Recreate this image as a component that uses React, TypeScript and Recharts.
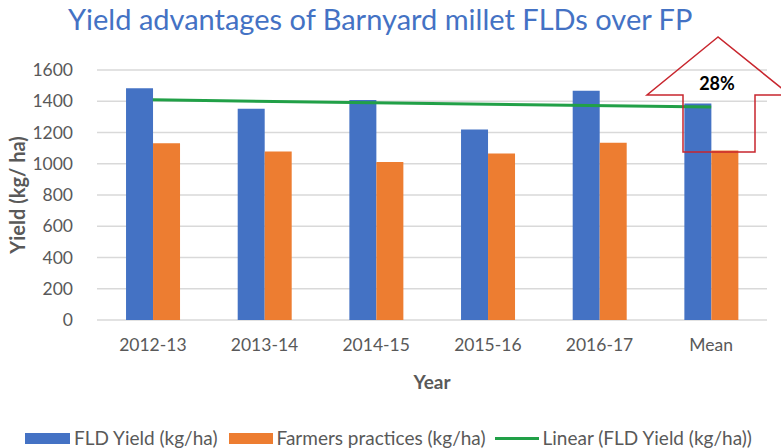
import {
  ComposedChart,
  Bar,
  XAxis,
  YAxis,
  CartesianGrid,
  ReferenceLine,
} from "recharts";

const years = ["2012-13", "2013-14", "2014-15", "2015-16", "2016-17", "Mean"];
const fldYield = [1483, 1352, 1408, 1220, 1468, 1386];
const farmersYield = [1132, 1079, 1011, 1066, 1135, 1085];
const yTicks = [0, 200, 400, 600, 800, 1000, 1200, 1400, 1600];
// linear trendline of FLD yield, read at first and last category
const trendStart = 1409;
const trendEnd = 1363;
const advantageLabel = "28%";

const chartData = years.map((year, i) => ({
  year,
  fld: fldYield[i],
  farmers: farmersYield[i],
}));

const FONT = "Lato, 'Open Sans', sans-serif";
const GREY = "#595959";

export default function App() {
  return (
    <div
      style={{
        position: "absolute",
        left: 0,
        top: 0,
        width: 781,
        height: 448,
        background: "#fff",
        fontFamily: FONT,
        overflow: "hidden",
      }}
    >
      {/* Title */}
      <div
        style={{
          position: "absolute",
          left: 68,
          top: 1,
          fontSize: 29,
          lineHeight: "36px",
          color: "#4472C4",
          whiteSpace: "nowrap",
        }}
      >
        Yield advantages of Barnyard millet FLDs over FP
      </div>

      <ComposedChart
        width={781}
        height={448}
        data={chartData}
        margin={{ top: 70, right: 14, bottom: 58, left: 0 }}
        barGap={0}
        barCategoryGap="26%"
      >
        <CartesianGrid vertical={false} stroke="#D9D9D9" strokeWidth={1.5} />
        <XAxis
          dataKey="year"
          axisLine={false}
          tickLine={false}
          height={70}
          tick={{ fill: GREY, fontSize: 17.5, fontFamily: FONT }}
          tickMargin={13}
          label={{
            value: "Year",
            position: "insideBottom",
            offset: 1,
            fill: GREY,
            fontSize: 19,
            fontWeight: 700,
            fontFamily: FONT,
          }}
        />
        <YAxis
          width={97}
          domain={[0, 1600]}
          ticks={yTicks}
          axisLine={false}
          tickLine={false}
          tick={{ fill: GREY, fontSize: 17.5, fontFamily: FONT }}
          tickMargin={18}
          label={{
            value: "Yield (kg/ ha)",
            angle: -90,
            position: "insideLeft",
            offset: 18,
            style: { textAnchor: "middle" },
            fill: GREY,
            fontSize: 20,
            fontWeight: 700,
            fontFamily: FONT,
          }}
        />
        <Bar dataKey="fld" fill="#4472C4" isAnimationActive={false} />
        <Bar dataKey="farmers" fill="#ED7D31" isAnimationActive={false} />
        <ReferenceLine
          segment={[
            { x: years[0], y: trendStart },
            { x: years[years.length - 1], y: trendEnd },
          ]}
          stroke="#21A047"
          strokeWidth={3}
        />
      </ComposedChart>

      {/* Up arrow annotation */}
      <svg
        width={781}
        height={448}
        style={{ position: "absolute", left: 0, top: 0, pointerEvents: "none" }}
      >
        <polygon
          points="718,37 647,95 683,95 683,152 755,152 755,95 790,95"
          fill="none"
          stroke="#C8262E"
          strokeWidth={1.5}
        />
        <text
          x={717}
          y={90}
          textAnchor="middle"
          fontSize={18}
          fontWeight={700}
          fontFamily={FONT}
          fill="#000"
        >
          {advantageLabel}
        </text>
      </svg>

      {/* Legend */}
      <div
        style={{
          position: "absolute",
          left: 25,
          top: 427,
          display: "flex",
          alignItems: "center",
          fontSize: 19,
          lineHeight: "22px",
          color: GREY,
          whiteSpace: "nowrap",
        }}
      >
        <span style={{ width: 45, height: 11, background: "#4472C4", marginRight: 4 }} />
        <span style={{ marginRight: 11 }}>FLD Yield (kg/ha)</span>
        <span style={{ width: 44, height: 11, background: "#ED7D31", marginRight: 4 }} />
        <span style={{ marginRight: 9 }}>Farmers practices (kg/ha)</span>
        <span style={{ width: 44, height: 3, background: "#21A047", marginRight: 4 }} />
        <span>Linear (FLD Yield (kg/ha))</span>
      </div>
    </div>
  );
}
